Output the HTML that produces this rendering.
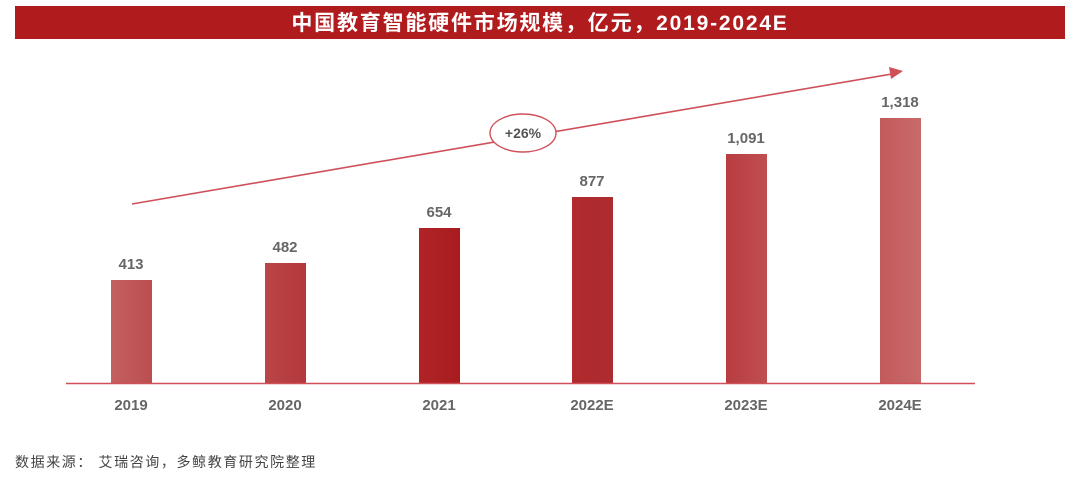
<!DOCTYPE html>
<html><head><meta charset="utf-8"><style>
body{margin:0;width:1080px;height:475px;background:#fff;overflow:hidden;font-family:"Liberation Sans","Noto Sans CJK SC",sans-serif}
</style></head><body>
<svg width="1080" height="475" xmlns="http://www.w3.org/2000/svg" font-family="Liberation Sans, Noto Sans CJK SC, sans-serif">
<defs>
<linearGradient id="g1" x1="0" x2="1"><stop offset="0" stop-color="#c46060"/><stop offset="1" stop-color="#bb4d50"/></linearGradient>
<linearGradient id="g2" x1="0" x2="1"><stop offset="0" stop-color="#bb4548"/><stop offset="1" stop-color="#b2383c"/></linearGradient>
<linearGradient id="g3" x1="0" x2="1"><stop offset="0" stop-color="#b02428"/><stop offset="1" stop-color="#a81c20"/></linearGradient>
<linearGradient id="g4" x1="0" x2="1"><stop offset="0" stop-color="#b02a2e"/><stop offset="1" stop-color="#ad2b2f"/></linearGradient>
<linearGradient id="g5" x1="0" x2="1"><stop offset="0" stop-color="#b83c40"/><stop offset="1" stop-color="#bf4f52"/></linearGradient>
<linearGradient id="g6" x1="0" x2="1"><stop offset="0" stop-color="#c25a5c"/><stop offset="1" stop-color="#c86a6a"/></linearGradient>
</defs>
<rect x="15" y="6" width="1050" height="33" fill="#b01b1e"/>
<text x="540" y="30" text-anchor="middle" fill="#fff" font-size="21" font-weight="bold" letter-spacing="1.8">中国教育智能硬件市场规模，亿元，2019-2024E</text>
<line x1="132" y1="204" x2="892" y2="74" stroke="#d0505a" stroke-width="1.6"/>
<polygon points="903,71 889,67 891,79" fill="#d0505a"/>
<ellipse cx="523" cy="133" rx="33" ry="19" fill="#fff" stroke="#d0505a" stroke-width="1.4"/>
<text x="523" y="138" text-anchor="middle" font-size="14" font-weight="bold" fill="#555">+26%</text>
<g font-size="15" font-weight="bold" fill="#666" text-anchor="middle">
<rect x="111" y="280" width="41" height="103" fill="url(#g1)"/><text x="131" y="269">413</text><text x="131" y="410">2019</text>
<rect x="265" y="263" width="41" height="120" fill="url(#g2)"/><text x="285" y="252">482</text><text x="285" y="410">2020</text>
<rect x="419" y="228" width="41" height="155" fill="url(#g3)"/><text x="439" y="217">654</text><text x="439" y="410">2021</text>
<rect x="572" y="197" width="41" height="186" fill="url(#g4)"/><text x="592" y="186">877</text><text x="592" y="410">2022E</text>
<rect x="726" y="154" width="41" height="229" fill="url(#g5)"/><text x="746" y="143">1,091</text><text x="746" y="410">2023E</text>
<rect x="880" y="118" width="41" height="265" fill="url(#g6)"/><text x="900" y="107">1,318</text><text x="900" y="410">2024E</text>
</g>
<line x1="66" y1="383.5" x2="975" y2="383.5" stroke="#d0505a" stroke-width="1.5"/>
<text x="15" y="467" font-size="14" fill="#444" letter-spacing="1.6">数据来源： 艾瑞咨询，多鲸教育研究院整理</text>
</svg>
</body></html>
